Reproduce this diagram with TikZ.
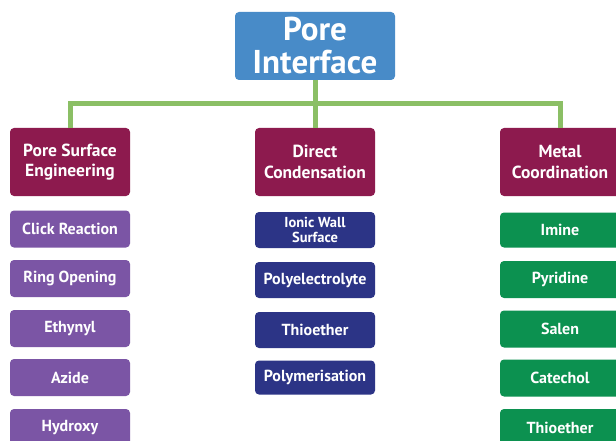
\documentclass[tikz,border=0pt]{standalone}
\usepackage{fontspec}
\setmainfont{PT Sans}
\definecolor{topblue}{HTML}{488BC8}
\definecolor{maroon}{HTML}{8D1A4E}
\definecolor{lpurple}{HTML}{7B55A5}
\definecolor{navy}{HTML}{2C3486}
\definecolor{dgreen}{HTML}{0C9150}
\definecolor{lgreen}{HTML}{8BBF65}
\tikzset{
  box/.style={rounded corners=4pt, inner sep=0pt, align=center, text=white, font=\bfseries, minimum width=120pt},
  topbox/.style={box, fill=topblue, minimum width=160pt, minimum height=68pt, font=\bfseries\fontsize{33}{33}\selectfont},
  catbox/.style={box, fill=maroon, minimum height=68pt, font=\bfseries\fontsize{17.5}{20.5}\selectfont},
  pbox/.style={box, fill=lpurple, minimum height=37pt, font=\bfseries\fontsize{16}{17}\selectfont},
  nbox/.style={box, fill=navy, minimum height=36pt, font=\bfseries\fontsize{16}{17}\selectfont},
  gbox/.style={box, fill=dgreen, minimum height=37pt, font=\bfseries\fontsize{16}{17}\selectfont},
  link/.style={draw=lgreen, line width=5pt}
}
\begin{document}
\begin{tikzpicture}[x=1pt,y=-1pt]
\useasboundingbox[fill=white] (0,0) rectangle (616,441);
\clip (0,0) rectangle (616,441);
\node[topbox] (top) at (315,46) {Pore\\Interface};
\node[catbox] (pse) at (70,162) {Pore Surface\\Engineering};
\node[catbox] (dc) at (315,162) {Direct\\Condensation};
\node[catbox] (mc) at (560,162) {Metal\\Coordination};
\coordinate (hb) at (315,104);
\draw[link] (top.south) -- (dc.north);
\draw[link] (pse.north) |- (hb) -| (mc.north);
% left column
\node[pbox] (click) at (70,229) {Click Reaction};
\node[pbox] (ring) at (70,278.5) {Ring Opening};
\node[pbox] (eth) at (70,328.5) {Ethynyl};
\node[pbox] (azi) at (70,377.5) {Azide};
\node[pbox] (hyd) at (70,427.5) {Hydroxy};
% middle column
\node[nbox, font=\bfseries\fontsize{14.5}{15}\selectfont] (ionic) at (315,230) {Ionic Wall\\Surface};
\node[nbox] (poly) at (315,280) {Polyelectrolyte};
\node[nbox] (thio) at (315,330) {Thioether};
\node[nbox, minimum height=34pt] (polym) at (315,377.5) {Polymerisation};
% right column
\node[gbox, minimum height=35pt] (imine) at (560,230) {Imine};
\node[gbox] (pyr) at (560,279.5) {Pyridine};
\node[gbox] (salen) at (560,329) {Salen};
\node[gbox] (cat) at (560,378) {Catechol};
\node[gbox] (thio2) at (560,427.5) {Thioether};
\end{tikzpicture}
\end{document}
